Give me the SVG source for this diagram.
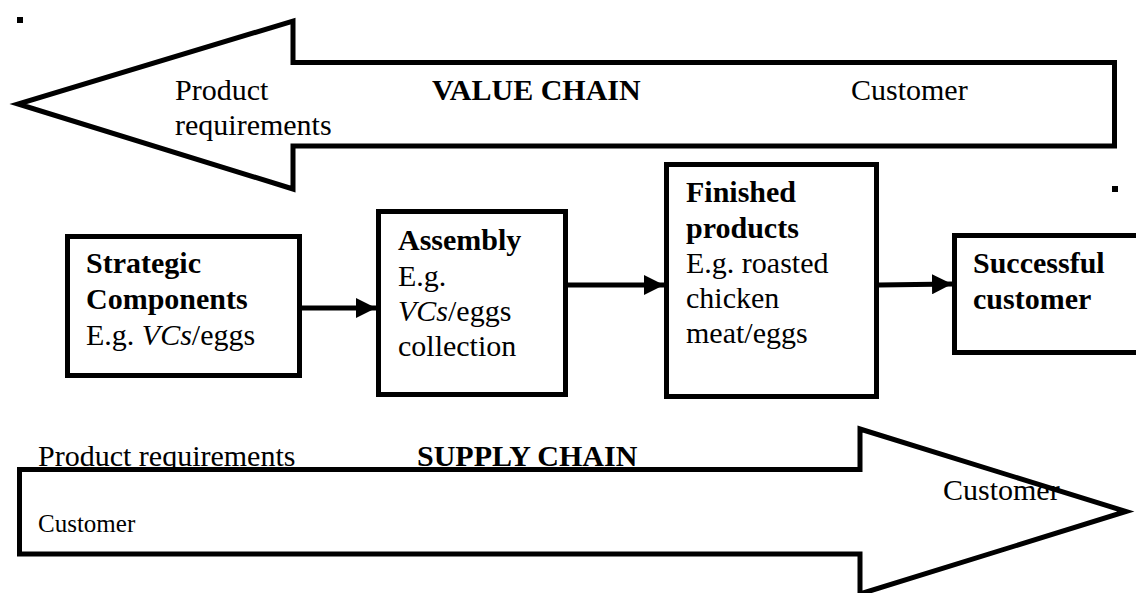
<svg xmlns="http://www.w3.org/2000/svg" width="1136" height="593" viewBox="0 0 1136 593">
  <defs>
    <style>
      .outline { fill: none; stroke: #000; stroke-width: 5; stroke-linejoin: miter; stroke-miterlimit: 12; }
      .fillw { fill: #fff; stroke: none; }
      .box { fill: #fff; stroke: #000; stroke-width: 5; }
      .link { fill: none; stroke: #000; stroke-width: 5; }
      text { font-family: "Liberation Serif", "Times New Roman", serif; font-size: 30px; fill: #000; }
      .b { font-weight: bold; }
      .i { font-style: italic; }
      .small { font-size: 25px; }
    </style>
    <marker id="head" markerUnits="userSpaceOnUse" markerWidth="20" markerHeight="20" viewBox="0 0 18 18" refX="18" refY="9" orient="auto">
      <path d="M0,0 L18,9 L0,18 Z" fill="#000"/>
    </marker>
    <path id="valueArrow" d="M1114.5,62.5 L293,62.5 L293,21 L18,104 L293,189 L293,146 L1114.5,146 Z"/>
    <path id="supplyArrow" d="M19.5,469.5 L860,469.5 L860,429 L1126,511.5 L860,594 L860,554 L19.5,554 Z"/>
  </defs>

  <!-- stray layout marks -->
  <rect x="17" y="17" width="6" height="6" fill="#000"/>
  <rect x="1112" y="186" width="6" height="6" fill="#000"/>

  <!-- value chain band (points left) -->
  <g id="value-chain">
    <use href="#valueArrow" class="fillw"/>
    <use href="#valueArrow" class="outline"/>
    <text x="175" y="100">Product</text>
    <text x="175" y="135">requirements</text>
    <text x="432" y="100" class="b">VALUE CHAIN</text>
    <text x="851" y="100">Customer</text>
  </g>

  <!-- supply chain band (points right) -->
  <g id="supply-chain">
    <use href="#supplyArrow" class="fillw"/>
    <text x="38" y="466">Product requirements</text>
    <text x="417" y="466" class="b">SUPPLY CHAIN</text>
    <text x="38" y="532" class="small">Customer</text>
    <text x="943" y="500">Customer</text>
    <use href="#supplyArrow" class="outline"/>
  </g>

  <!-- stage nodes -->
  <g id="strategic-components">
    <rect class="box" x="67.5" y="236.5" width="232" height="139"/>
    <text x="86" y="273" class="b">Strategic</text>
    <text x="86" y="309" class="b">Components</text>
    <text x="86" y="345">E.g. <tspan class="i">VCs</tspan>/eggs</text>
  </g>

  <g id="assembly">
    <rect class="box" x="378.5" y="211.5" width="187" height="183"/>
    <text x="398" y="250" class="b">Assembly</text>
    <text x="398" y="286">E.g.</text>
    <text x="398" y="321"><tspan class="i">VCs</tspan>/eggs</text>
    <text x="398" y="356">collection</text>
  </g>

  <g id="finished-products">
    <rect class="box" x="666.5" y="164.5" width="210" height="232"/>
    <text x="686" y="202" class="b">Finished</text>
    <text x="686" y="238" class="b">products</text>
    <text x="686" y="273">E.g. roasted</text>
    <text x="686" y="308">chicken</text>
    <text x="686" y="343">meat/eggs</text>
  </g>

  <g id="successful-customer">
    <rect class="box" x="954.5" y="235.5" width="190" height="117"/>
    <text x="973" y="273" class="b">Successful</text>
    <text x="973" y="309" class="b">customer</text>
  </g>

  <!-- flow connectors -->
  <g id="connectors">
    <line class="link" x1="302" y1="308" x2="376" y2="308" marker-end="url(#head)"/>
    <line class="link" x1="568" y1="285" x2="664" y2="285" marker-end="url(#head)"/>
    <line class="link" x1="879" y1="285" x2="952" y2="284" marker-end="url(#head)"/>
  </g>
</svg>
